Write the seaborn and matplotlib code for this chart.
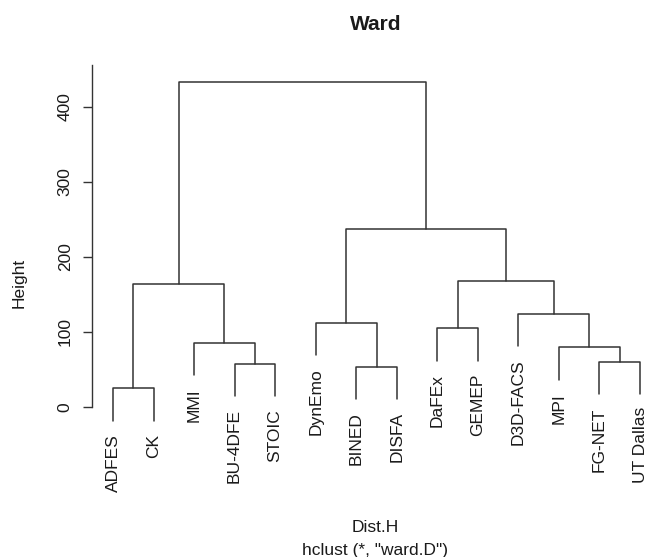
import numpy as np
import pandas as pd
import matplotlib
matplotlib.use("Agg")
import matplotlib.pyplot as plt
import seaborn as sns

# ---- data ----
labels = ["ADFES", "CK", "MMI", "BU-4DFE", "STOIC", "DynEmo", "BINED", "DISFA",
          "DaFEx", "GEMEP", "D3D-FACS", "MPI", "FG-NET", "UT Dallas"]
merge_a = ["ADFES", "BU-4DFE", "MMI", "m1", "BINED", "DynEmo", "FG-NET", "MPI",
           "D3D-FACS", "DaFEx", "m10", "m6", "m4"]
merge_b = ["CK", "STOIC", "m2", "m3", "DISFA", "m5", "UT Dallas", "m7",
           "m8", "GEMEP", "m9", "m11", "m12"]
heights = [24.4, 57.0, 85.3, 163.6, 53.3, 112.0, 60.0, 79.2,
           123.6, 104.5, 168.0, 237.0, 433.0]
yticks = [0, 100, 200, 300, 400]

sns.set_style("white")
plt.rcParams["font.family"] = ["Liberation Sans", "DejaVu Sans"]

W, H, DPI = 646, 557, 100
fig = plt.figure(figsize=(W / DPI, H / DPI), dpi=DPI)

# ---- geometry of tree ----
hang = 0.1 * max(heights)
pos = {lab: i + 1 for i, lab in enumerate(labels)}
top = {}
leaf_bottom = {}
rows = []
for k, (a, b, h) in enumerate(zip(merge_a, merge_b, heights)):
    name = f"m{k + 1}"
    ends = []
    for c in (a, b):
        if c in top:
            ends.append((pos[c], top[c]))
        else:
            yb = h - hang
            leaf_bottom[c] = yb
            ends.append((pos[c], yb))
    (xa, ya), (xb, yb) = ends
    for j, (x, y) in enumerate([(xa, ya), (xa, h), (xb, h), (xb, yb)]):
        rows.append({"seg": name, "order": j, "x": x, "y": y})
    pos[name] = (xa + xb) / 2
    top[name] = h
df = pd.DataFrame(rows)

# ---- axes placement (pixels) ----
px_per_unit = 40.54
left_px, top_px, bot_px = 91.5, 65.0, 501.0
y0_px, px_per_h = 406.7, 0.75
ax = fig.add_axes([left_px / W, 1 - bot_px / H, (W - left_px) / W, (bot_px - top_px) / H])
x_lo = 1 - (113 - left_px) / px_per_unit
ax.set_xlim(x_lo, x_lo + (W - left_px) / px_per_unit)
ax.set_ylim((y0_px - bot_px) / px_per_h, (y0_px - top_px) / px_per_h)

sns.lineplot(data=df, x="x", y="y", units="seg", estimator=None, sort=False,
             color="#333333", linewidth=1.1, ax=ax, legend=False)

for lab in labels:
    ax.annotate(lab, xy=(pos[lab], leaf_bottom[lab]), xytext=(0, -9.4),
                textcoords="offset points", rotation=90, ha="center", va="top",
                fontsize=12.5, color="#1a1a1a")

for s in ("top", "right", "bottom"):
    ax.spines[s].set_visible(False)
ax.spines["left"].set_color("#333333")
ax.spines["left"].set_linewidth(1.0)
ax.spines["left"].set_bounds(0, ax.get_ylim()[1])
ax.set_xticks([])
ax.set_yticks(yticks)
ax.set_yticklabels([str(t) for t in yticks], rotation=90, va="center")
ax.tick_params(axis="y", length=6.5, width=1.0, color="#333333", pad=7,
               labelsize=12.5, labelcolor="#1a1a1a", left=True)
ax.set_xlabel("")
ax.set_ylabel("")

fig.text(19 / W, 1 - 283 / H, "Height", rotation=90, ha="center", va="center",
         fontsize=12.5, color="#1a1a1a")
fig.text(375.5 / W, 1 - 24 / H, "Ward", ha="center", va="center",
         fontsize=15, fontweight="bold", color="#1a1a1a")
fig.text(375 / W, 1 - 528 / H, "Dist.H", ha="center", va="center",
         fontsize=12.5, color="#1a1a1a")
fig.text(375 / W, 1 - 550 / H, 'hclust (*, "ward.D")', ha="center", va="center",
         fontsize=12.5, color="#1a1a1a")

fig.savefig("out.png", dpi=DPI)
